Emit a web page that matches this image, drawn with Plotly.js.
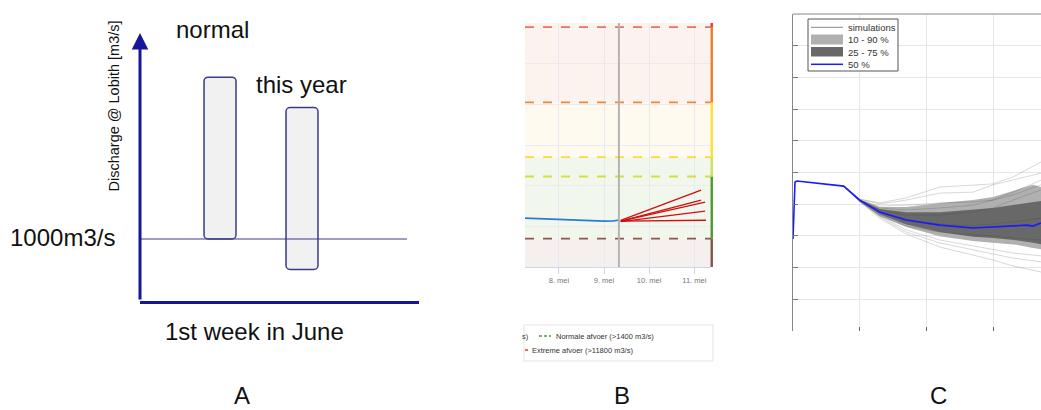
<!DOCTYPE html>
<html>
<head>
<meta charset="utf-8">
<script src="https://cdn.plot.ly/plotly-3.0.1.min.js"></script>
<style>html,body{margin:0;padding:0;background:#fff;}#chart{width:1041px;height:410px;}</style>
</head>
<body>
<div id="chart"></div>
<script>
// ---------- Panel A data (schematic, m3/s) ----------
const aCategories = ["normal", "this year"];
const aLow = [1000, 510];
const aHigh = [3610, 3120];
const aReference = 1000;

// ---------- Panel B data ----------
const bTickVals = [8, 9, 10, 11];
const bTickText = ["8. mei", "9. mei", "10. mei", "11. mei"];
const bObsX = [7.25, 7.5, 7.75, 8.0, 8.25, 8.5, 8.75, 9.0, 9.2, 9.33];
const bObsY = [2404, 2379, 2370, 2330, 2320, 2306, 2290, 2257, 2265, 2306];
const bNow = 9.33;
const bFcStartX = 9.37;
const bFcStartY = [2290, 2257, 2257, 2230, 2257];
const bFcEndX = [11.15, 11.15, 11.24, 11.24, 11.26];
const bFcEndY = [3780, 3290, 3190, 2750, 2300];
const bLevels = [11800, 8100, 5400, 4450, 1400];
const bZoneEdges = [0, 1400, 5400, 8100, 12000];
const bBarEdges = [0, 1400, 4450, 5400, 8100, 11800, 12000];
const bLegendLabels = ["Normale afvoer (>1400 m3/s)", "Extreme afvoer (>11800 m3/s)"];

// ---------- Panel C data ----------
const cObsX = [0, 0.03, 0.06, 0.76, 1.0, 1.3, 1.7, 2.2, 2.7, 3.0, 3.21, 3.51, 3.6, 3.72];
const cMedian = [2.90, 4.70, 4.73, 4.57, 4.13, 3.75, 3.50, 3.34, 3.25, 3.28, 3.31, 3.34, 3.31, 3.41];
const cBandX = [0.76, 1.0, 1.3, 1.7, 2.2, 2.7, 3.0, 3.35, 3.6, 3.72];
const cP90 = [4.57, 4.16, 3.91, 3.91, 4.04, 4.13, 4.23, 4.45, 4.61, 4.54];
const cP10 = [4.57, 4.08, 3.62, 3.28, 2.99, 2.84, 2.78, 2.72, 2.62, 2.58];
const cP75 = [4.57, 4.14, 3.85, 3.75, 3.75, 3.82, 3.88, 3.99, 4.06, 4.10];
const cP25 = [4.57, 4.11, 3.68, 3.36, 3.12, 2.97, 2.93, 2.86, 2.78, 2.74];
const cSimX = [0.76, 1.0, 1.3, 1.7, 2.2, 2.7, 3.0, 3.3, 3.72];
const cSims = [
  [4.57, 4.16, 4.04, 4.20, 4.54, 4.61, 4.64, 4.86, 5.33],
  [4.57, 4.16, 4.01, 4.13, 4.35, 4.38, 4.61, 4.76, 4.98],
  [4.57, 4.13, 3.94, 3.97, 4.04, 4.07, 4.13, 4.29, 4.61],
  [4.57, 4.13, 3.88, 3.82, 3.88, 3.97, 4.13, 4.38, 4.76],
  [4.57, 4.13, 3.82, 3.66, 3.66, 3.75, 3.88, 4.13, 4.45],
  [4.57, 4.13, 3.75, 3.50, 3.38, 3.31, 3.38, 3.44, 3.56],
  [4.57, 4.10, 3.66, 3.31, 3.12, 3.03, 3.00, 2.93, 2.87],
  [4.57, 4.10, 3.63, 3.19, 2.87, 2.68, 2.56, 2.46, 2.37],
  [4.57, 4.10, 3.60, 3.12, 2.78, 2.56, 2.43, 2.30, 2.18],
  [4.57, 4.07, 3.56, 3.06, 2.65, 2.40, 2.24, 2.05, 1.86]
];
const cLegendLabels = ["simulations", "10 - 90 %", "25 - 75 %", "50 %"];

// ---------- helpers (page pixel -> paper) ----------
const W = 1041, H = 410;
const PX = x => x / W;
const PY = y => 1 - y / H;
const NAVY = "#16169a";
const FA = "Liberation Sans, Arial, sans-serif";
const C_LIGHT = "#b0b0b0", C_DARK = "#686868", C_BLUE = "#1a1aff";

const traces = [];
// Panel A bars
traces.push({
  type: "bar", x: [0, 1], y: aHigh.map((h, i) => h - aLow[i]), base: aLow,
  width: 0.39, xaxis: "x", yaxis: "y", hoverinfo: "skip",
  marker: { color: "#f1f1f1", cornerradius: 4, line: { color: "#3a3a8c", width: 1.5 } }
});
// Panel B observed
traces.push({
  type: "scatter", mode: "lines", x: bObsX, y: bObsY, xaxis: "x2", yaxis: "y2",
  line: { color: "#2a7bd3", width: 1.6 }, hoverinfo: "skip"
});
bFcEndX.forEach((ex, i) => {
  traces.push({
    type: "scatter", mode: "lines", x: [bFcStartX, ex], y: [bFcStartY[i], bFcEndY[i]],
    xaxis: "x2", yaxis: "y2", line: { color: "#cc1111", width: 1.4 }, hoverinfo: "skip"
  });
});
// Panel C bands
traces.push({ type: "scatter", mode: "lines", x: cBandX, y: cP10, xaxis: "x3", yaxis: "y3",
  line: { width: 0, color: C_LIGHT }, hoverinfo: "skip" });
traces.push({ type: "scatter", mode: "lines", x: cBandX, y: cP90, xaxis: "x3", yaxis: "y3",
  fill: "tonexty", fillcolor: C_LIGHT, line: { width: 0, color: C_LIGHT }, hoverinfo: "skip" });
traces.push({ type: "scatter", mode: "lines", x: cBandX, y: cP25, xaxis: "x3", yaxis: "y3",
  line: { width: 0, color: C_DARK }, hoverinfo: "skip" });
traces.push({ type: "scatter", mode: "lines", x: cBandX, y: cP75, xaxis: "x3", yaxis: "y3",
  fill: "tonexty", fillcolor: C_DARK, line: { width: 0, color: C_DARK }, hoverinfo: "skip" });
cSims.forEach((s) => {
  traces.push({ type: "scatter", mode: "lines", x: cSimX, y: s, xaxis: "x3", yaxis: "y3",
    line: { color: "rgba(60,60,60,0.25)", width: 0.8 }, hoverinfo: "skip" });
});
traces.push({ type: "scatter", mode: "lines", x: cObsX, y: cMedian, xaxis: "x3", yaxis: "y3",
  line: { color: C_BLUE, width: 1.6 }, hoverinfo: "skip" });

const shapes = [];
const annotations = [];
function label(text, x, y, size, extra) {
  annotations.push(Object.assign({ xref: "paper", yref: "paper", x: PX(x), y: PY(y), text: text,
    showarrow: false, xanchor: "center", yanchor: "middle",
    font: { family: FA, size: size, color: "#111" } }, extra || {}));
}
function pline(x0, y0, x1, y1, line) {
  shapes.push({ type: "line", xref: "paper", yref: "paper", x0: PX(x0), x1: PX(x1), y0: PY(y0), y1: PY(y1), line: line });
}
function prect(x0, y0, x1, y1, fill, line) {
  shapes.push({ type: "rect", xref: "paper", yref: "paper", x0: PX(x0), x1: PX(x1), y0: PY(y1), y1: PY(y0),
    fillcolor: fill, line: line });
}

// Panel A reference line
shapes.push({ type: "line", xref: "x domain", yref: "y", x0: 0, x1: 0.957, y0: aReference, y1: aReference,
  line: { color: "#3b3b90", width: 1 }, layer: "above" });
const aXRange = [-0.976, 2.427];
const aYRange = [0, 4323];
annotations.push({ xref: "x", yref: "y", axref: "x", ayref: "y", x: aXRange[0], y: aYRange[1],
  ax: aXRange[0], ay: aYRange[0], text: "", showarrow: true, arrowhead: 2, arrowsize: 1.1,
  arrowwidth: 3, arrowcolor: NAVY });
label(aCategories[0], 212.5, 30, 24);
label(aCategories[1], 301, 85, 24);
label(aReference + "m3/s", 62, 238, 24);
label("1st week in June", 254.5, 331.5, 24);
label("Discharge @ Lobith [m3/s]", 113, 106.5, 14.5, { textangle: -90 });
label("A", 242, 395, 24);
label("B", 622, 395, 24);
label("C", 938, 395, 24);

// Panel B zones
const zoneColors = ["#f5f0ee", "#f2f7ed", "#fefaef", "#fdf3ee"];
for (let i = 0; i < zoneColors.length; i++) {
  shapes.push({ type: "rect", xref: "x2 domain", yref: "y2", x0: 0, x1: 1, y0: bZoneEdges[i], y1: bZoneEdges[i + 1],
    fillcolor: zoneColors[i], line: { width: 0 }, layer: "below" });
}
const levelColors = ["#e4716a", "#f0863a", "#ffd93b", "#d3df3e", "#8a5a4c"];
bLevels.forEach((v, i) => {
  shapes.push({ type: "line", xref: "x2 domain", yref: "y2", x0: 0, x1: 1, y0: v, y1: v,
    line: { color: levelColors[i], width: 1.8, dash: "dash" }, layer: "above" });
});
const barColors = ["#7d5548", "#4b9a32", "#cfe05a", "#ffe033", "#f07c2a", "#e53935"];
for (let i = 0; i < barColors.length; i++) {
  shapes.push({ type: "line", xref: "x2 domain", yref: "y2", x0: 1.004, x1: 1.004, y0: bBarEdges[i], y1: bBarEdges[i + 1],
    line: { color: barColors[i], width: 2.4 }, layer: "above" });
}
shapes.push({ type: "line", xref: "x2", yref: "y2 domain", x0: bNow, x1: bNow, y0: 0, y1: 1,
  line: { color: "#b3b3b3", width: 2 }, layer: "above" });
// Panel B legend box (cropped)
prect(524, 325, 713, 361, "rgba(0,0,0,0)", { color: "#e3e3e3", width: 1 });
pline(539, 336, 551, 336, { color: "#4b9a32", width: 1.5, dash: "3px,2px" });
pline(525, 350, 528, 350, { color: "#e53935", width: 1.5 });
const bf = { family: FA, size: 7.5, color: "#333" };
label("s)", 531, 336, 7.5, { xanchor: "right", font: bf });
label(bLegendLabels[0], 554, 336, 7.5, { xanchor: "left", font: bf });
label(bLegendLabels[1], 530, 350, 7.5, { xanchor: "left", font: bf });

// Panel C top border
shapes.push({ type: "line", xref: "x3 domain", yref: "y3 domain", x0: 0, x1: 1, y0: 1, y1: 1,
  line: { color: "#888", width: 1 } });
// Panel C legend (compact, like the reference)
prect(808, 19, 898, 71, "#ffffff", { color: "#555", width: 1 });
pline(811, 27.3, 843, 27.3, { color: "#8a8a8a", width: 1 });
prect(811, 34.5, 843, 44.5, C_LIGHT, { width: 0 });
prect(811, 47, 843, 56.5, C_DARK, { width: 0 });
pline(811, 64.3, 843, 64.3, { color: C_BLUE, width: 1.5 });
const cf = { family: FA, size: 9.5, color: "#333" };
[27.3, 40, 52.3, 64.3].forEach((y, i) => {
  label(cLegendLabels[i], 846, y, 9.5, { xanchor: "left", font: cf });
});

const layout = {
  width: W, height: H, margin: { l: 0, r: 0, t: 0, b: 0 },
  paper_bgcolor: "#fff", plot_bgcolor: "rgba(0,0,0,0)",
  barmode: "overlay", showlegend: false,
  xaxis: { domain: [PX(140), PX(419)], range: aXRange, showgrid: false, zeroline: false,
    showticklabels: false, showline: true, linewidth: 3, linecolor: NAVY, anchor: "y", fixedrange: true },
  yaxis: { domain: [PY(301), PY(33)], range: aYRange, showgrid: false, zeroline: false,
    showticklabels: false, showline: false, anchor: "x", fixedrange: true },
  xaxis2: { domain: [PX(525), PX(711)], range: [7.25, 11.37], anchor: "y2", tickvals: bTickVals, ticktext: bTickText,
    showgrid: true, gridcolor: "#e8e8ee", zeroline: false, showline: true, linecolor: "#ccd6eb", linewidth: 1,
    ticks: "outside", ticklen: 6, tickcolor: "#ccd6eb", tickfont: { family: FA, size: 7.5, color: "#777" } },
  yaxis2: { domain: [PY(267), PY(23)], range: [0, 12000], dtick: 2000, anchor: "x2", showticklabels: false,
    showgrid: true, gridcolor: "#ebebeb", zeroline: false, showline: false },
  xaxis3: { domain: [PX(793), 1], range: [0, 3.72], dtick: 1, anchor: "y3", showticklabels: false,
    showgrid: true, gridcolor: "#e6e6e6", zeroline: false, showline: false,
    ticks: "inside", ticklen: 4, tickcolor: "#666" },
  yaxis3: { domain: [PY(331), PY(14)], range: [0, 10], dtick: 1, anchor: "x3", showticklabels: false,
    showgrid: true, gridcolor: "#e6e6e6", zeroline: false, showline: true, linecolor: "#888", linewidth: 1,
    ticks: "inside", ticklen: 5, tickcolor: "#777" },
  shapes: shapes, annotations: annotations
};

Plotly.newPlot("chart", traces, layout, { staticPlot: true, displayModeBar: false });
</script>
</body>
</html>
